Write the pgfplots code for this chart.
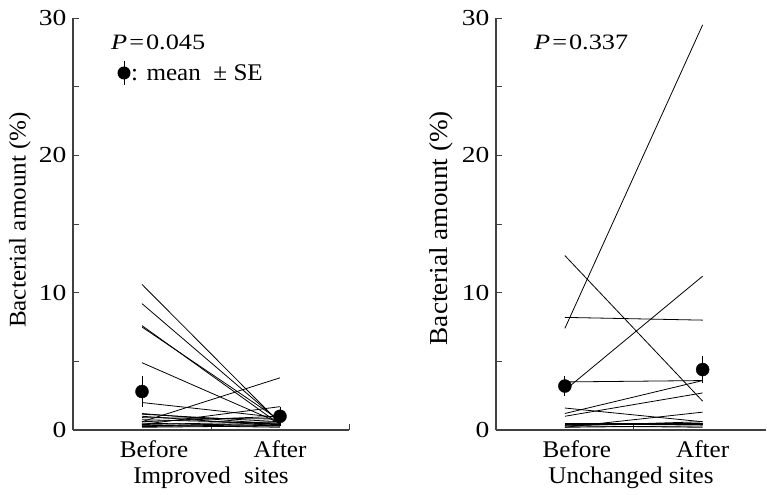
\documentclass[border=0pt]{standalone}
\usepackage{fontspec}
\setmainfont{Liberation Serif}[FakeStretch=1.05]
\newfontfamily\widefont{Liberation Serif}[FakeStretch=1.2]
\usepackage{pgfplots}
\pgfplotsset{compat=1.18}
\newcommand{\chartfont}{\fontsize{24}{28}\selectfont}
\newcommand{\tickfont}{\widefont\fontsize{23}{27}\selectfont}
\pgfplotsset{
  panel/.style={
    scale only axis, height=412bp, anchor=south west,
    axis lines*=left, axis line style={-, line width=1.1bp, black!75},
    xmin=0.5, ymin=0, ymax=30,
    xtick={1,2}, xticklabels={\hspace{24bp}Before, After},
    major x tick style={draw=none},
    minor xtick={1.5,2.5},
    ytick={0,10,20,30}, minor ytick={5,15,25},
    tick align=inside, major tick length=6bp, minor tick length=6bp,
    tick style={black!75, line width=0.8bp},
    ylabel={Bacterial amount (\%)},
    yticklabel style={font=\tickfont, xshift=-3bp},
    xticklabel style={font=\chartfont, anchor=base, yshift=-27bp},
    xlabel style={font=\chartfont, at={(axis description cs:0.5,0)},
      anchor=base, yshift=-53bp},
    /pgf/number format/assume math mode=true,
    clip=false,
  },
  pair/.style={black, line width=0.8bp, mark=none},
  means/.style={black, only marks, mark=*, mark size=6.5bp,
    error bars/.cd, y dir=both, y explicit,
    error mark=none, error bar style={line width=1bp}},
}
\begin{document}
\begin{tikzpicture}
\useasboundingbox (0bp,0bp) rectangle (767bp,495bp);

% Improved sites
\begin{axis}[panel, at={(73bp,65bp)}, width=276bp, xmax=2.5,
  xlabel={Improved\hspace{0.55em}sites},
  ylabel style={font=\chartfont, at={(axis description cs:0,0.51)},
    anchor=center, yshift=53bp}]
\addplot[pair] coordinates {(1,10.6) (2,0.5)};
\addplot[pair] coordinates {(1,9.2) (2,0.6)};
\addplot[pair] coordinates {(1,7.6) (2,0.4)};
\addplot[pair] coordinates {(1,7.5) (2,0.7)};
\addplot[pair] coordinates {(1,4.9) (2,0.5)};
\addplot[pair] coordinates {(1,2.0) (2,0.9)};
\addplot[pair] coordinates {(1,0.6) (2,3.8)};
\addplot[pair] coordinates {(1,0.4) (2,1.7)};
\addplot[pair] coordinates {(1,1.2) (2,0.4)};
\addplot[pair] coordinates {(1,1.15) (2,0.6)};
\addplot[pair] coordinates {(1,1.0) (2,0.3)};
\addplot[pair] coordinates {(1,0.9) (2,0.8)};
\addplot[pair] coordinates {(1,0.75) (2,0.5)};
\addplot[pair] coordinates {(1,0.6) (2,1.0)};
\addplot[pair] coordinates {(1,0.5) (2,0.3)};
\addplot[pair] coordinates {(1,0.4) (2,0.6)};
\addplot[pair] coordinates {(1,0.35) (2,0.2)};
\addplot[pair] coordinates {(1,0.3) (2,0.5)};
\addplot[pair] coordinates {(1,0.25) (2,0.4)};
\addplot[pair] coordinates {(1,0.2) (2,0.3)};
\addplot[means] coordinates {(1,2.8) +- (0,1.1) (2,1.0) +- (0,0.7)};
\end{axis}

% Unchanged sites
\begin{axis}[panel, at={(496bp,65bp)}, width=270bp, xmax=2.46,
  xlabel={Unchanged sites},
  ylabel style={font=\fontsize{26}{30}\selectfont, at={(axis description cs:0,0.49)},
    anchor=center, yshift=55bp}]
\addplot[pair] coordinates {(1,7.4) (2,29.5)};
\addplot[pair] coordinates {(1,12.7) (2,2.1)};
\addplot[pair] coordinates {(1,8.2) (2,8.0)};
\addplot[pair] coordinates {(1,2.9) (2,11.2)};
\addplot[pair] coordinates {(1,3.5) (2,3.6)};
\addplot[pair] coordinates {(1,1.6) (2,0.6)};
\addplot[pair] coordinates {(1,1.2) (2,3.6)};
\addplot[pair] coordinates {(1,1.0) (2,2.7)};
\addplot[pair] coordinates {(1,0.2) (2,1.3)};
\addplot[pair] coordinates {(1,0.5) (2,0.5)};
\addplot[pair] coordinates {(1,0.4) (2,0.4)};
\addplot[pair] coordinates {(1,0.3) (2,0.6)};
\addplot[pair] coordinates {(1,0.2) (2,0.3)};
\addplot[pair] coordinates {(1,0.3) (2,0.2)};
\addplot[means] coordinates {(1,3.2) +- (0,0.75) (2,4.4) +- (0,1.0)};
\end{axis}

% annotations
\node[anchor=base west, font=\widefont\fontsize{22}{26}\selectfont, inner sep=0]
  at (111bp,445bp) {\textit{P}\kern2pt=\kern2pt0.045};
\fill (124bp,422bp) circle (6.5bp);
\draw[line width=1bp] (124bp,410bp) -- (124bp,434bp);
\node[anchor=base west, font=\chartfont, inner sep=0]
  at (131bp,414bp) {: mean\ \ ± SE};
\node[anchor=base west, font=\widefont\fontsize{22}{26}\selectfont, inner sep=0]
  at (534bp,445bp) {\textit{P}\kern2pt=\kern2pt0.337};
\end{tikzpicture}
\end{document}
